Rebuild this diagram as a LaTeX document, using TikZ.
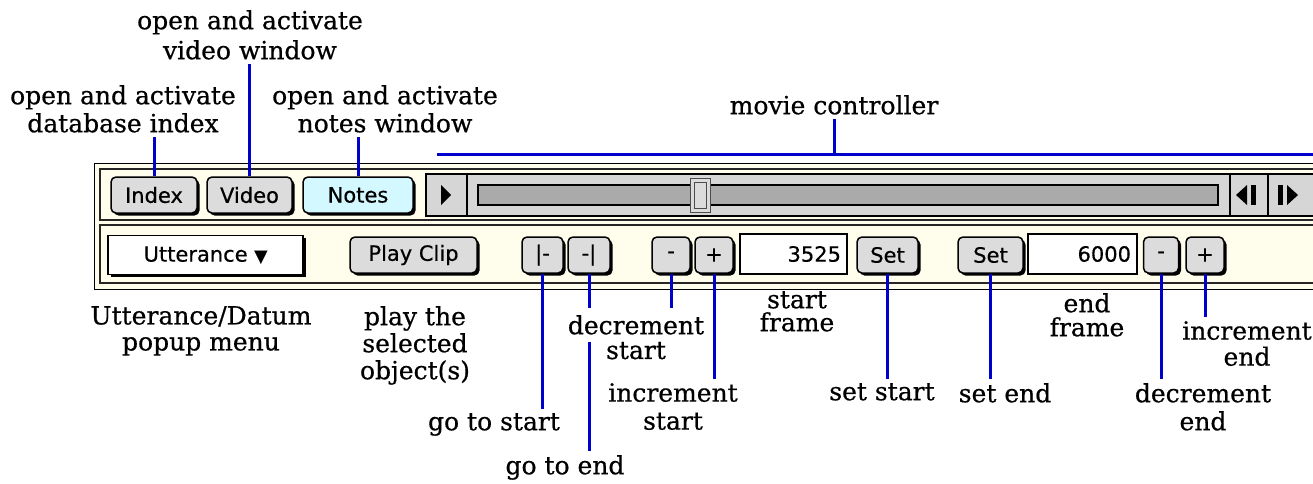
\documentclass[tikz,border=0pt]{standalone}
\usepackage{fontspec}
\setmainfont{DejaVu Serif}[FakeBold=0.6]
\newfontfamily\uifont{DejaVu Sans}[FakeBold=0.5]
\usetikzlibrary{positioning, shadows}

\definecolor{leaderblue}{RGB}{0,0,204}
\definecolor{panelcream}{RGB}{255,253,236}
\definecolor{btngray}{RGB}{220,220,220}
\definecolor{notescyan}{RGB}{212,248,255}
\definecolor{ctrlgray}{RGB}{214,214,214}
\definecolor{trackgray}{RGB}{170,170,170}

\begin{document}
\begin{tikzpicture}[x=1pt, y=-1pt,
    button/.style={draw=black, line width=1.5pt, rounded corners=5pt, fill=btngray, font=\uifont\fontsize{21}{21}\selectfont, inner sep=0pt, minimum height=36pt, drop shadow={shadow xshift=2.5pt, shadow yshift=-2.5pt, fill=black, opacity=1}},
    field/.style={draw=black, line width=1.5pt, fill=white, font=\uifont\fontsize{21}{21}\selectfont, inner xsep=6pt, inner ysep=0pt, minimum height=40pt, align=right},
    explain/.style={font=\fontsize{25}{28}\selectfont, align=center, inner sep=4pt, anchor=north},
    leader/.style={draw=leaderblue, line width=3pt}
]
\useasboundingbox (0,0) rectangle (1313,483);
\fill[white] (0,0) rectangle (1313,483);
\clip (0,0) rectangle (1313,483);

% ==== Panel ====
\filldraw[fill=panelcream, draw=black, line width=1pt] (94,163) rectangle (1330,289);
\draw[line width=2pt, draw=black!85] (100,169) rectangle (1330,220);
\draw[line width=2pt, draw=black!85] (100,225) rectangle (1330,283);

% ==== Movie controller ====
\filldraw[fill=ctrlgray, draw=black, line width=1.5pt] (426,174) rectangle (1330,216);
\draw[line width=1.5pt] (467,174) -- (467,216);
\draw[line width=1.5pt] (1230,174) -- (1230,216);
\draw[line width=1.5pt] (1268,174) -- (1268,216);
\filldraw[fill=trackgray, draw=black, line width=1.5pt] (478,185) rectangle (1218,205);
\filldraw[fill=btngray, draw=black!70, line width=1pt] (690,178) rectangle (710,212);
\draw[black!70, line width=1pt] (694,182) rectangle (706,208);
\fill (441,185) -- (441,205) -- (451,195) -- cycle;
\fill (1236,195) -- (1247,185) -- (1247,205) -- cycle;
\fill (1251,185) rectangle (1256,205);
\fill (1278,185) rectangle (1283,205);
\fill (1287,185) -- (1287,205) -- (1298,195) -- cycle;

% ==== Top row buttons ====
\node[button, minimum width=86pt] (bIndex) at (154,195) {Index};
\node[button, minimum width=85pt] (bVideo) at (249.5,195) {Video};
\node[button, minimum width=110pt, fill=notescyan] (bNotes) at (358,195) {Notes};

% ==== Bottom row controls ====
\node[button, minimum width=195pt, minimum height=39pt, rounded corners=0pt, fill=white] (pMenu) at (205.5,255) {Utterance {\fontsize{17}{17}\selectfont▼}};
\node[button, minimum width=127pt] (bPlay) at (413.5,255) {Play Clip};
\node[button, minimum width=41pt] (bGoStart) at (542.5,255) {|-};
\node[button, minimum width=42pt] (bGoEnd) at (589,255) {-|};
\node[button, minimum width=38pt] (bDecStart) at (671,255) {-};
\node[button, minimum width=38pt] (bIncStart) at (714,255) {+};
\node[field, text width=95pt] (fStart) at (793.5,254) {3525};
\node[button, minimum width=61pt] (bSetStart) at (887.5,255) {Set};
\node[button, minimum width=65pt] (bSetEnd) at (990.5,255) {Set};
\node[field, text width=97pt] (fEnd) at (1082.5,254) {6000};
\node[button, minimum width=35pt] (bDecEnd) at (1161,255) {-};
\node[button, minimum width=38pt] (bIncEnd) at (1205,255) {+};

% ==== Top labels ====
\node[explain, font=\fontsize{25}{30}\selectfont] (vidLbl) at (250,6) {open and activate\\video window};
\node[explain] (dbLbl) at (123,81) {open and activate\\database index};
\node[explain] (notesLbl) at (385,81) {open and activate\\notes window};
\node[explain] (mcLbl) at (834,91) {movie controller};
\coordinate (mcLeft) at (437,154);
\coordinate (mcRight) at (1313,154);

% ==== Bottom labels ====
\node[explain, font=\fontsize{25}{26}\selectfont] (uttLbl) at (201,302) {Utterance/Datum\\popup menu};
\node[explain, font=\fontsize{25}{27}\selectfont] (playLbl) at (415,302) {play the\\selected\\object(s)};
\node[explain] (goStartLbl) at (494,409) {go to start};
\node[explain] (goEndLbl) at (565,451) {go to end};
\node[explain] (incStartLbl) at (673,379) {increment\\start};
\node[explain, font=\fontsize{25}{23}\selectfont] (frStartLbl) at (797,287) {start\\frame};
\node[explain] (setStartLbl) at (882,379) {set start};
\node[explain] (setEndLbl) at (1005,379) {set end};
\node[explain, font=\fontsize{25}{24}\selectfont] (frEndLbl) at (1087,289) {end\\frame};
\node[explain] (decEndLbl) at (1203,379) {decrement\\end};
\node[explain, font=\fontsize{25}{26}\selectfont] (incEndLbl) at (1247,317) {increment\\end};

% ==== Leaders ====
\draw[leader] (bIndex.north) -- (bIndex.north |- dbLbl.south);
\draw[leader] (bVideo.north) -- (bVideo.north |- vidLbl.south);
\draw[leader] (bNotes.north) -- (bNotes.north |- notesLbl.south);
\draw[leader] (mcLeft) -- (mcRight);
\draw[leader] (mcLbl.south) -- (mcLbl.south |- mcLeft);
\draw[leader] (bGoStart.south) -- (bGoStart.south |- goStartLbl.north);
\draw[leader] (bGoEnd.south) -- (bGoEnd.south |- goEndLbl.north);

\node[explain, fill=white, inner ysep=7pt] (decStartLbl) at (636,308) {decrement};
\node[explain, below=0pt of decStartLbl, inner ysep=0pt] (decStartLbl2) {start};

\draw[leader] (bDecStart.south) -- (bDecStart.south |- decStartLbl.north);
\draw[leader] (bIncStart.south) -- (bIncStart.south |- incStartLbl.north);
\draw[leader] (bSetStart.south) -- (bSetStart.south |- setStartLbl.north);
\draw[leader] (bSetEnd.south) -- (bSetEnd.south |- setEndLbl.north);
\draw[leader] (bDecEnd.south) -- (bDecEnd.south |- decEndLbl.north);
\draw[leader] (bIncEnd.south) -- (bIncEnd.south |- incEndLbl.north);

\end{tikzpicture}
\end{document}
